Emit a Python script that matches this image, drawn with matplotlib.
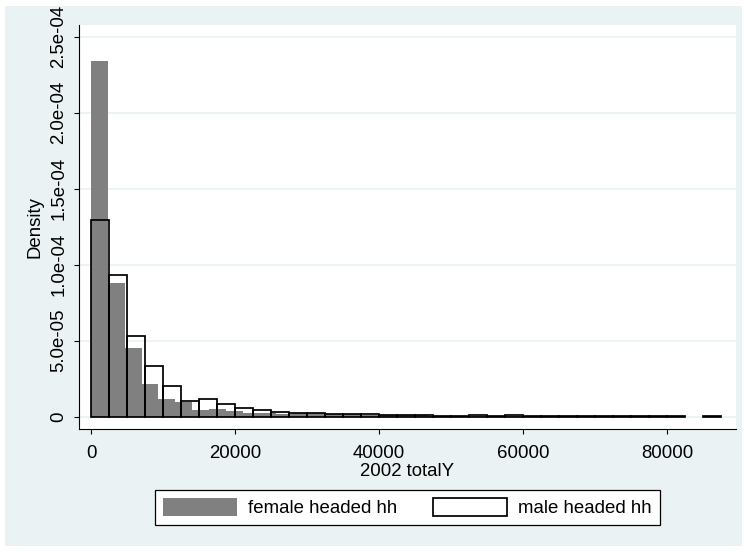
import matplotlib
matplotlib.use("Agg")
import matplotlib.pyplot as plt
from matplotlib.patches import Rectangle, Patch
import numpy as np

# ---------------- data ----------------
female_bin_width = 2340
female_density = [
    2.34e-4, 8.78e-5, 4.54e-5, 2.17e-5, 1.16e-5, 9.9e-6, 4.6e-6, 5.0e-6,
    4.0e-6, 2.5e-6, 2.3e-6, 2.0e-6, 2.3e-6, 2.3e-6, 1.9e-6, 1.6e-6,
    1.2e-6, 0.9e-6, 0.8e-6, 1.0e-6, 0.7e-6, 0.6e-6, 0.5e-6, 0.6e-6,
    0.4e-6, 0.4e-6, 0.5e-6, 0.6e-6, 0.3e-6, 0.3e-6, 0.2e-6, 0.3e-6,
    0.2e-6, 0.2e-6, 0.1e-6,
]
male_bin_width = 2500
male_density = [
    1.294e-4, 9.34e-5, 5.31e-5, 3.36e-5, 2.04e-5, 1.05e-5, 1.19e-5, 8.4e-6,
    5.7e-6, 4.6e-6, 2.8e-6, 2.6e-6, 2.4e-6, 2.0e-6, 1.8e-6, 1.7e-6,
    0.8e-6, 0.8e-6, 1.3e-6, 0.6e-6, 0.6e-6, 0.8e-6, 0.5e-6, 0.8e-6,
    0.4e-6, 0.6e-6, 0.4e-6, 0.3e-6, 0.3e-6, 0.3e-6, 0.3e-6, 0.3e-6,
    0.3e-6, 0.0, 0.3e-6,
]
series_labels = ["female headed hh", "male headed hh"]
xticks = [0, 20000, 40000, 60000, 80000]
xtick_labels = ["0", "20000", "40000", "60000", "80000"]
yticks = [0, 5e-5, 1e-4, 1.5e-4, 2e-4, 2.5e-4]
ytick_labels = ["0", "5.0e-05", "1.0e-04", "1.5e-04", "2.0e-04", "2.5e-04"]
x_title = "2002 totalY"
y_title = "Density"

# ---------------- style ----------------
plt.rcParams['font.family'] = ['Liberation Sans', 'DejaVu Sans']
FS = 13.4
BG = '#eaf2f3'
GREY = '#808080'

W, H = 744, 551
fig = plt.figure(figsize=(W / 100, H / 100), dpi=100, facecolor='white')
fig.patches.append(Rectangle((5 / W, 1 - 546 / H), (742 - 5) / W, (546 - 6) / H,
                             transform=fig.transFigure, facecolor=BG,
                             edgecolor='none', zorder=-10))

L, R, T, B = 79, 736, 25, 429
ax = fig.add_axes([L / W, 1 - B / H, (R - L) / W, (B - T) / H])
ax.set_facecolor('white')

f_edges = np.arange(len(female_density)) * female_bin_width
m_edges = np.arange(len(male_density)) * male_bin_width
f_h = np.array(female_density)
m_h = np.array(male_density)
fm = f_h > 0
mm = m_h > 0

ax.bar(f_edges[fm], f_h[fm], width=female_bin_width, align='edge',
       color=GREY, linewidth=0, zorder=2)
ax.bar(m_edges[mm], m_h[mm], width=male_bin_width, align='edge',
       fill=False, edgecolor='black', linewidth=1.25, zorder=3)

ax.set_xlim(-1667, 89583)
ax.set_ylim(-8.09e-6, 2.577e-4)

ax.set_xticks(xticks)
ax.set_xticklabels(xtick_labels, fontsize=FS)
ax.set_yticks(yticks)
ax.set_yticklabels(ytick_labels, fontsize=FS, rotation=90, va='center')

ax.yaxis.grid(True, color=BG, linewidth=1.2, zorder=0)
ax.set_axisbelow(True)

for s in ['top', 'right']:
    ax.spines[s].set_visible(False)
for s in ['left', 'bottom']:
    ax.spines[s].set_color('black')
    ax.spines[s].set_linewidth(0.8)

ax.tick_params(axis='both', direction='out', length=3.8, width=0.8, color='black')
ax.tick_params(axis='x', pad=8)
ax.tick_params(axis='y', pad=4.5)

ax.set_xlabel(x_title, fontsize=FS, labelpad=0.5)
ax.set_ylabel(y_title, fontsize=FS, labelpad=5)

handles = [Patch(facecolor=GREY, edgecolor='none'),
           Patch(facecolor='white', edgecolor='black', linewidth=1.25)]
leg = fig.legend(handles, series_labels, loc='center',
                 bbox_to_anchor=(407.5 / W, 1 - 507.8 / H), ncol=2, fontsize=FS,
                 frameon=True, fancybox=False, framealpha=1, edgecolor='black',
                 handlelength=3.95, handleheight=1.07, handletextpad=0.63,
                 columnspacing=1.9, borderpad=0.42, borderaxespad=0)
leg.get_frame().set_linewidth(0.9)

fig.savefig('out.png', dpi=100, facecolor='white')
